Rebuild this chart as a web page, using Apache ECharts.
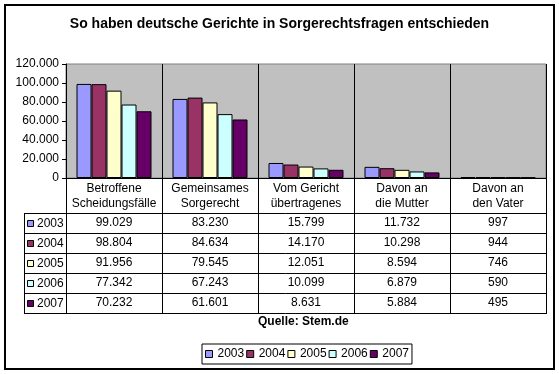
<!DOCTYPE html>
<html>
<head>
<meta charset="utf-8">
<script src="https://cdn.jsdelivr.net/npm/echarts@6/dist/echarts.min.js"></script>
<style>
html,body{margin:0;padding:0;background:#fff;}
#c{width:559px;height:374px;}
</style>
</head>
<body>
<div id="c"></div>
<script>
const titleText = 'So haben deutsche Gerichte in Sorgerechtsfragen entschieden';
const sourceText = 'Quelle: Stem.de';
const categories = ['Betroffene\nScheidungsfälle', 'Gemeinsames\nSorgerecht', 'Vom Gericht\nübertragenes', 'Davon an\ndie Mutter', 'Davon an\nden Vater'];
const years = ['2003', '2004', '2005', '2006', '2007'];
const v2003 = [99029, 83230, 15799, 11732, 997];
const v2004 = [98804, 84634, 14170, 10298, 944];
const v2005 = [91956, 79545, 12051, 8594, 746];
const v2006 = [77342, 67243, 10099, 6879, 590];
const v2007 = [70232, 61601, 8631, 5884, 495];
const yTicks = [0, 20000, 40000, 60000, 80000, 100000, 120000];

const seriesValues = [v2003, v2004, v2005, v2006, v2007];
const colors = ['#9999FF', '#993366', '#FFFFCC', '#CCFFFF', '#660066'];
const FONT = 'Arial, "Liberation Sans", sans-serif';

function fmt(n) {
  return String(n).replace(/\B(?=(\d{3})+(?!\d))/g, '.');
}

// layout constants
const GL = 66, GT = 64, GW = 480, GH = 114;
const GB = GT + GH;            // 178
const ROW0 = 213, ROWH = 20, NROWS = 5;
const TL = 24;                 // table left
const TR = GL + GW;            // 546
const TB = ROW0 + ROWH * NROWS; // 313

const chart = echarts.init(document.getElementById('c'), null, {renderer: 'canvas'});

const xAxes = [{
  type: 'category',
  data: categories,
  gridIndex: 0,
  position: 'bottom',
  axisLine: {show: true, lineStyle: {color: '#000', width: 1}},
  axisTick: {show: false},
  splitLine: {show: true, lineStyle: {color: '#000', width: 1}},
  axisLabel: {color: '#000', fontSize: 12, fontFamily: FONT, lineHeight: 15, margin: 3, interval: 0}
}];
seriesValues.forEach((vals, i) => {
  xAxes.push({
    type: 'category',
    data: vals.map(fmt),
    gridIndex: 0,
    position: 'bottom',
    offset: (ROW0 + ROWH * i + ROWH / 2 - 7) - GB,
    axisLine: {show: false},
    axisTick: {show: false},
    splitLine: {show: false},
    axisLabel: {color: '#000', fontSize: 12, fontFamily: FONT, lineHeight: 14, margin: 0, interval: 0}
  });
});

const graphics = [];
// outer border
graphics.push({type: 'rect', shape: {x: 5, y: 5, width: 549, height: 364}, style: {fill: 'none', stroke: '#000', lineWidth: 2}, silent: true, z: 100});
// horizontal table lines
for (let r = 0; r <= NROWS; r++) {
  const y = ROW0 + ROWH * r + 0.5;
  graphics.push({type: 'line', shape: {x1: TL, y1: y, x2: TR + 0.5, y2: y}, style: {stroke: '#000', lineWidth: 1}, silent: true, z: 100});
}
// vertical lines
graphics.push({type: 'line', shape: {x1: TL + 0.5, y1: ROW0, x2: TL + 0.5, y2: TB + 1}, style: {stroke: '#000', lineWidth: 1}, silent: true, z: 100});
for (let k = 0; k <= categories.length; k++) {
  const x = GL + (GW / categories.length) * k + 0.5;
  graphics.push({type: 'line', shape: {x1: x, y1: GB, x2: x, y2: TB + 1}, style: {stroke: '#000', lineWidth: 1}, silent: true, z: 100});
}
// row labels
years.forEach((yr, i) => {
  const cy = ROW0 + ROWH * i + ROWH / 2 + 0.5;
  graphics.push({type: 'rect', shape: {x: 27.5, y: Math.round(cy - 3.5) + 0.5, width: 6, height: 6}, style: {fill: colors[i], stroke: '#000', lineWidth: 1}, silent: true, z: 100});
  graphics.push({type: 'text', x: 37, y: cy, style: {text: yr, fill: '#000', font: '12px ' + FONT, textVerticalAlign: 'middle', verticalAlign: 'middle'}, silent: true, z: 100});
});

const option = {
  backgroundColor: '#fff',
  animation: false,
  title: [
    {text: titleText, left: 'center', top: 17, padding: 0,
     textStyle: {fontSize: 14, fontWeight: 'bold', color: '#000', fontFamily: FONT}},
    {text: sourceText, left: 258, top: 316, padding: 0,
     textStyle: {fontSize: 12, fontWeight: 'bold', color: '#000', fontFamily: FONT}}
  ],
  legend: {
    data: years,
    left: 202, top: 344,
    padding: [4, 3],
    itemGap: 2,
    itemWidth: 7, itemHeight: 7,
    icon: 'rect',
    borderColor: '#000', borderWidth: 1,
    itemStyle: {borderColor: '#000', borderWidth: 1},
    textStyle: {fontSize: 12, color: '#000', fontFamily: FONT},
    selectedMode: false
  },
  grid: {left: GL, top: GT, width: GW, height: GH, show: true, backgroundColor: '#C0C0C0', borderColor: '#808080', borderWidth: 1, containLabel: false},
  xAxis: xAxes,
  yAxis: {
    type: 'value', min: yTicks[0], max: yTicks[yTicks.length - 1], interval: yTicks[1] - yTicks[0],
    axisLine: {show: true, lineStyle: {color: '#000', width: 1}},
    axisTick: {show: true, length: 4, lineStyle: {color: '#000'}},
    splitLine: {show: false},
    axisLabel: {color: '#000', fontSize: 12, fontFamily: FONT, margin: 7, formatter: v => fmt(v)}
  },
  series: seriesValues.map((vals, i) => ({
    name: years[i],
    type: 'bar',
    xAxisIndex: 0,
    data: vals,
    barWidth: 15,
    barGap: '0%',
    itemStyle: {color: colors[i], borderColor: '#000', borderWidth: 1}
  })),
  graphic: graphics
};
chart.setOption(option);
</script>
</body>
</html>
